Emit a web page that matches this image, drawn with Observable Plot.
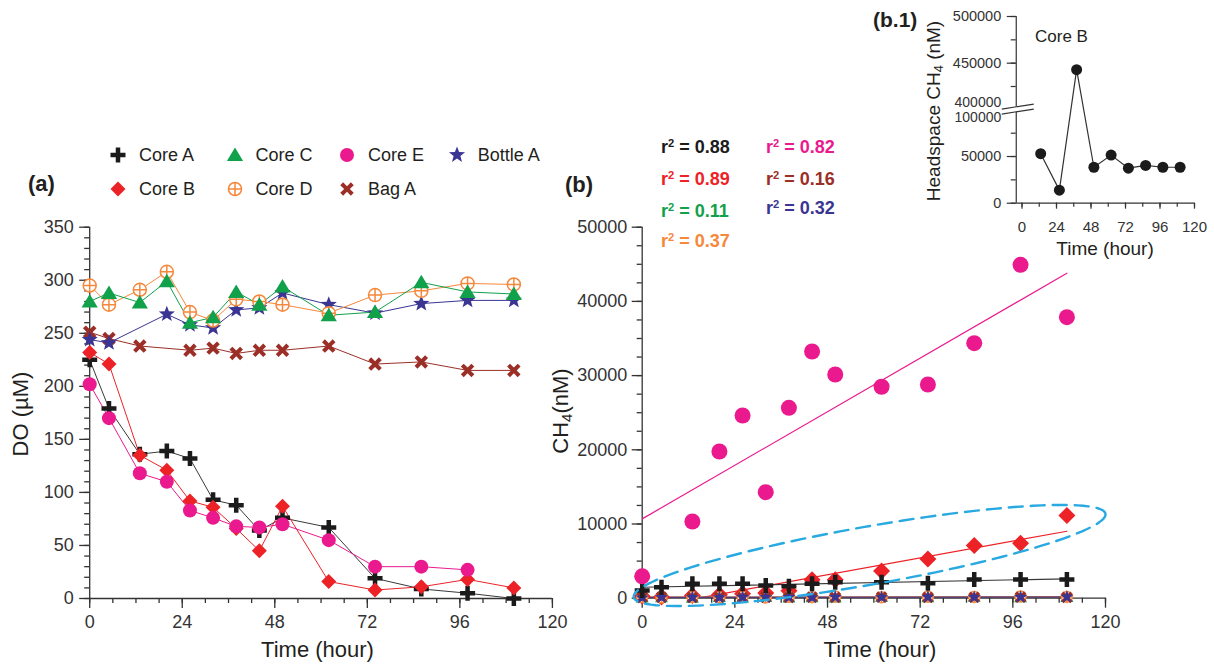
<!DOCTYPE html>
<html>
<head>
<meta charset="utf-8">
<script src="https://cdn.jsdelivr.net/npm/d3@7"></script>
<script src="https://cdn.jsdelivr.net/npm/@observablehq/plot@0.6"></script>
<style>
  html, body { margin: 0; padding: 0; background: #fff; }
  #fig { position: relative; width: 1214px; height: 666px; overflow: hidden;
         font-family: "Liberation Sans", Arial, Helvetica, sans-serif; color: #231f20; }
  #fig > svg { position: absolute; left: 0; top: 0; }
  .t { position: absolute; white-space: nowrap; line-height: 1; }
  .t sup { font-size: 0.62em; vertical-align: 0.5em; line-height: 0; }
  .t sub { font-size: 0.68em; vertical-align: -0.28em; line-height: 0; }
  .sym { position: absolute; width: 24px; height: 24px; overflow: visible; }
</style>
</head>
<body>
<div id="fig"></div>
<script>
// ---------------------------------------------------------------- data
// sampling times (hours)
const hours = [0, 5, 13, 20, 26, 32, 38, 44, 50, 62, 74, 86, 98, 110];

// (a) dissolved oxygen, µM (null = no measurement)
const doCoreA   = [225, 179, 136, 139, 132, 93, 88, 64, 76, 67, 19, 9, 5, 0];
const doCoreB   = [232, 221, 135, 121, 92, 86, 66, 45, 87, 16, 8, 11, 18, 10];
const doCoreC   = [280, 288, 279, 299, 260, 265, 289, 277, 294, 267, 270, 298, 289, 287];
const doCoreD   = [295, 277, 291, 308, 270, 262, 282, 280, 277, 269, 286, 290, 297, 296];
const doCoreE   = [202, 170, 118, 110, 83, 76, 68, 67, 70, 55, 30, 30, 27, null];
const doBagA    = [251, 245, 238, null, 234, 236, 231, 234, 234, 238, 221, 223, 215, 215];
const doBottleA = [244, 241, null, 268, 258, 255, 272, 274, 288, 277, 269, 278, 281, 281];

// (b) dissolved CH4, nM
const ch4CoreA   = [1040, 1480, 1940, 1940, 1940, 1710, 1620, 1940, 2160, 2160, 2000, 2520, 2520, 2520];
const ch4CoreB   = [250, 150, 350, 450, 600, 700, 1000, 2500, 2500, 3650, 5270, 7100, 7400, 11150];
const ch4CoreC   = [60, 90, 40, 120, 80, 150, 70, 110, 60, 140, 90, 160, 100, 130];
const ch4CoreD   = [150, 90, 170, 120, 200, 110, 180, 140, 230, 120, 210, 160, 240, 170];
const ch4CoreE   = [2950, null, 10340, 19770, 24620, 14290, 25660, 33250, 30150, 28500, 28800, 34370, 44930, 37870];
const ch4BagA    = [120, 140, 100, 130, 110, 150, 90, 140, 120, 160, 100, 130, 150, 110];
const ch4BottleA = [80, 120, 100, 90, 130, 110, 140, 100, 150, 120, 160, 110, 140, 170];

// r² of the linear fits in (b)
const fitLabels = [
  {name: "Core A", text: "0.88"}, {name: "Core B", text: "0.89"},
  {name: "Core C", text: "0.11"}, {name: "Core D", text: "0.37"},
  {name: "Core E", text: "0.82"}, {name: "Bag A", text: "0.16"},
  {name: "Bottle A", text: "0.32"}
];

// (b.1) headspace CH4 of Core B, nM
const headspaceHours = [13, 26, 38, 50, 62, 74, 86, 98, 110];
const headspaceCoreB = [53000, 14000, 443000, 38500, 51500, 37500, 40500, 38500, 38500];

// dashed outline around the low-CH4 cores in (b): centre and semi-axes (hour, nM)
const outlineCenter = {hour: 58.9, ch4: 5755};
const outlineMajor  = {hour: 61.1, ch4: 5620};
const outlineMinor  = {hour: 1.3,  ch4: -3850};

// ---------------------------------------------------------------- symbols
const poly = pts => ({
  draw(ctx, size) {
    const r = Math.sqrt(size / Math.PI);
    pts.forEach(([px, py], i) => i ? ctx.lineTo(px * r, py * r) : ctx.moveTo(px * r, py * r));
    ctx.closePath();
  }
});
const armPts = w => [[-1,-w],[-w,-w],[-w,-1],[w,-1],[w,-w],[1,-w],[1,w],[w,w],[w,1],[-w,1],[-w,w],[-1,w]];
const symPlus = poly(armPts(0.3));
const symTimes = poly(armPts(0.27).map(([x, y]) => [(x - y) * Math.SQRT1_2, (x + y) * Math.SQRT1_2]));
const symDiamond = poly([[0,-1],[1,0],[0,1],[-1,0]]);
const symTriangle = poly([[0,-1],[1.08,0.8],[-1.08,0.8]]);
const symStar = poly(d3.range(10).map(i => {
  const a = i * Math.PI / 5 - Math.PI / 2, k = i % 2 ? 0.42 : 1;
  return [k * Math.cos(a), k * Math.sin(a)];
}));
const symCircle = {draw(ctx, size) { const r = Math.sqrt(size / Math.PI); ctx.moveTo(r, 0); ctx.arc(0, 0, r, 0, 2 * Math.PI); }};
const symOplus = {draw(ctx, size) {
  const r = Math.sqrt(size / Math.PI);
  ctx.moveTo(r, 0); ctx.arc(0, 0, r, 0, 2 * Math.PI);
  ctx.moveTo(-r, 0); ctx.lineTo(r, 0); ctx.moveTo(0, -r); ctx.lineTo(0, r);
}};

const styles = {
  "Core A":   {color: "#1b1b1b", line: "#3a3a3a", symbol: symPlus,     fill: "#1b1b1b", rA: 7.5, rB: 7.5},
  "Core B":   {color: "#ec2227", line: "#ec2227", symbol: symDiamond,  fill: "#ec2227", rA: 7.5, rB: 8.5},
  "Core C":   {color: "#12a14b", line: "#12a14b", symbol: symTriangle, fill: "#12a14b", rA: 7.5, rB: 6},
  "Core D":   {color: "#f6883c", line: "#f6883c", symbol: symOplus,    fill: "white", stroke: "#f6883c", rA: 6.5, rB: 5.5},
  "Core E":   {color: "#ea1a8e", line: "#ea1a8e", symbol: symCircle,   fill: "#ea1a8e", rA: 7, rB: 8},
  "Bag A":    {color: "#9b2f27", line: "#9b2f27", symbol: symTimes,    fill: "#9b2f27", rA: 7.5, rB: 6.5},
  "Bottle A": {color: "#3a3592", line: "#3a3592", symbol: symStar,     fill: "#3a3592", rA: 8.5, rB: 7}
};

const tidy = (name, values, key) => hours.map((h, i) => ({name, hour: h, [key]: values[i]})).filter(d => d[key] != null);
const doData = {
  "Core A": tidy("Core A", doCoreA, "do"), "Core B": tidy("Core B", doCoreB, "do"),
  "Core C": tidy("Core C", doCoreC, "do"), "Core D": tidy("Core D", doCoreD, "do"),
  "Core E": tidy("Core E", doCoreE, "do"), "Bag A": tidy("Bag A", doBagA, "do"),
  "Bottle A": tidy("Bottle A", doBottleA, "do")
};
const ch4Data = {
  "Core A": tidy("Core A", ch4CoreA, "ch4"), "Core B": tidy("Core B", ch4CoreB, "ch4"),
  "Core C": tidy("Core C", ch4CoreC, "ch4"), "Core D": tidy("Core D", ch4CoreD, "ch4"),
  "Core E": tidy("Core E", ch4CoreE, "ch4"), "Bag A": tidy("Bag A", ch4BagA, "ch4"),
  "Bottle A": tidy("Bottle A", ch4BottleA, "ch4")
};
const headspace = headspaceHours.map((h, i) => ({hour: h, ch4: headspaceCoreB[i]}));
// broken y axis of (b.1): 400000–500000 is drawn directly above 0–100000
const brokenY = v => v > 250000 ? v - 300000 : v;

// ---------------------------------------------------------------- layout
const W = 1214, H = 666;
const FONT = '"Liberation Sans", Arial, Helvetica, sans-serif';
const INK = "#231f20";
const AX = "#333";
const baseStyle = {background: "transparent", overflow: "visible", fontFamily: FONT, color: AX};

const dots = (data, name, yKey, rKey) => {
  const s = styles[name];
  return Plot.dot(data, {x: "hour", y: yKey, symbol: s.symbol, r: s[rKey], fill: s.fill,
    stroke: s.stroke ?? "none", strokeWidth: s.stroke ? 1.5 : 0});
};

// ---- (a) dissolved oxygen
const orderA = ["Bag A", "Bottle A", "Core D", "Core C", "Core A", "Core B", "Core E"];
const panelA = Plot.plot({
  width: W, height: H,
  marginLeft: 89.2, marginRight: W - 551.9, marginTop: 226.7, marginBottom: H - 598,
  x: {domain: [0, 120], label: null},
  y: {domain: [0, 350], label: null},
  style: baseStyle,
  marks: [
    Plot.axisX(d3.range(0, 121, 6), {tickSize: 5, tickFormat: () => "", strokeWidth: 1.3, label: null}),
    Plot.axisX(d3.range(0, 121, 24), {tickSize: 10, tickPadding: 7, fontSize: 18, strokeWidth: 1.3, label: null}),
    Plot.axisY(d3.range(0, 351, 10), {tickSize: 5, tickFormat: () => "", strokeWidth: 1.3, label: null}),
    Plot.axisY(d3.range(0, 351, 50), {tickSize: 10, tickPadding: 6, fontSize: 18, strokeWidth: 1.3, label: null}),
    Plot.ruleY([0], {stroke: AX, strokeWidth: 1.3}),
    Plot.ruleX([0], {stroke: AX, strokeWidth: 1.3}),
    ...orderA.map(n => Plot.line(doData[n], {x: "hour", y: "do", stroke: styles[n].line, strokeWidth: 1})),
    ...orderA.map(n => dots(doData[n], n, "do", "rA"))
  ]
});

// ---- (b) dissolved CH4 with linear fits
const orderB = ["Core B", "Core C", "Core D", "Bag A", "Bottle A", "Core A", "Core E"];
const outline = d3.range(0, 361, 3).map(deg => {
  const p = deg * Math.PI / 180;
  return {
    hour: outlineCenter.hour + outlineMajor.hour * Math.cos(p) + outlineMinor.hour * Math.sin(p),
    ch4: outlineCenter.ch4 + outlineMajor.ch4 * Math.cos(p) + outlineMinor.ch4 * Math.sin(p)
  };
});
const panelB = Plot.plot({
  width: W, height: H,
  marginLeft: 641.7, marginRight: W - 1105, marginTop: 226.7, marginBottom: H - 597.7,
  x: {domain: [0, 120], label: null},
  y: {domain: [0, 50000], label: null},
  style: baseStyle,
  marks: [
    Plot.axisX(d3.range(0, 121, 6), {tickSize: 5, tickFormat: () => "", strokeWidth: 1.3, label: null}),
    Plot.axisX(d3.range(0, 121, 24), {tickSize: 10, tickPadding: 7, fontSize: 18, strokeWidth: 1.3, label: null}),
    Plot.axisY(d3.range(0, 50001, 2500), {tickSize: 5, tickFormat: () => "", strokeWidth: 1.3, label: null}),
    Plot.axisY(d3.range(0, 50001, 10000), {tickSize: 10, tickPadding: 5, fontSize: 18, tickFormat: d => String(d), strokeWidth: 1.3, label: null}),
    Plot.ruleY([0], {stroke: AX, strokeWidth: 1.3}),
    Plot.ruleX([0], {stroke: AX, strokeWidth: 1.3}),
    ...orderB.map(n => Plot.linearRegressionY(ch4Data[n], {x: "hour", y: "ch4", stroke: styles[n].line, strokeWidth: 1.2, ci: 0, clip: true})),
    ...orderB.map(n => dots(ch4Data[n], n, "ch4", "rB")),
    Plot.line(outline, {x: "hour", y: "ch4", stroke: "#29a9e1", strokeWidth: 2.4, strokeDasharray: "14,8"})
  ]
});

// ---- (b.1) headspace CH4 of Core B
const insetLabels = new Map([[0, "0"], [50000, "50000"], [150000, "450000"], [200000, "500000"]]);
const axisBreak = (index, {x, y}) => {
  const cx = x(-4), cy = y(brokenY(100000));
  const g = d3.create("svg:g").attr("fill", "none");
  g.append("path").attr("fill", "white").attr("stroke", "none")
    .attr("d", `M${cx - 14},${cy + 4.5}L${cx + 18},${cy - 0.5}L${cx + 18},${cy - 5.5}L${cx - 14},${cy - 0.5}Z`);
  for (const off of [-2.8, 2.2]) {
    g.append("path").attr("stroke", AX).attr("stroke-width", 1.2)
      .attr("d", `M${cx - 14},${cy + off + 2.5}L${cx + 18},${cy + off - 2.5}`);
  }
  return g.node();
};
const inset = Plot.plot({
  width: W, height: H,
  marginLeft: 1015.75, marginRight: W - 1194, marginTop: 16, marginBottom: H - 202.7,
  x: {domain: [-4, 120], label: null},
  y: {domain: [0, 200000], label: null},
  style: baseStyle,
  marks: [
    Plot.axisX(d3.range(0, 121, 12), {tickSize: 4, tickFormat: () => "", strokeWidth: 1.2, label: null}),
    Plot.axisX(d3.range(0, 121, 24), {tickSize: 6, tickPadding: 12, fontSize: 15, strokeWidth: 1.2, label: null}),
    Plot.axisY(d3.range(0, 200001, 25000), {tickSize: 5, tickFormat: () => "", strokeWidth: 1.2, label: null}),
    Plot.axisY(d3.range(0, 200001, 50000), {tickSize: 9, tickPadding: 6, fontSize: 14.5, strokeWidth: 1.2,
      tickFormat: d => insetLabels.get(d) ?? "", label: null}),
    Plot.text([100000], {y: d => d, text: () => "400000", frameAnchor: "left", dx: -15, dy: -7, textAnchor: "end", fontSize: 14, fill: AX}),
    Plot.text([100000], {y: d => d, text: () => "100000", frameAnchor: "left", dx: -15, dy: 7.5, textAnchor: "end", fontSize: 14, fill: AX}),
    Plot.ruleY([0], {stroke: AX, strokeWidth: 1.2}),
    Plot.ruleX([-4], {stroke: AX, strokeWidth: 1.2}),
    axisBreak,
    Plot.line(headspace, {x: "hour", y: d => brokenY(d.ch4), stroke: "#333", strokeWidth: 1.2}),
    Plot.dot(headspace, {x: "hour", y: d => brokenY(d.ch4), r: 5.5, fill: "#1b1b1b"})
  ]
});

const fig = document.getElementById("fig");
fig.append(panelA, panelB, inset);

// ---------------------------------------------------------------- text & legend
function label(html, x, y, {size = 18, weight = 400, color = INK, align = "start", rotate = false} = {}) {
  const el = document.createElement("div");
  el.className = "t";
  el.innerHTML = html;
  Object.assign(el.style, {left: x + "px", top: y + "px", fontSize: size + "px", fontWeight: weight, color});
  const tx = align === "middle" ? "-50%" : align === "end" ? "-100%" : "0";
  el.style.transform = `translate(${tx}, -50%)` + (rotate ? " rotate(-90deg)" : "");
  fig.append(el);
}

// legend of (a): four columns, two rows
const legendCols = [118, 234.5, 347, 456.7];
const legendRows = [155, 189];
const legendTextDx = 21;
const legendItems = [
  ["Core A", 0, 0], ["Core B", 0, 1], ["Core C", 1, 0], ["Core D", 1, 1],
  ["Core E", 2, 0], ["Bag A", 2, 1], ["Bottle A", 3, 0]
];
for (const [name, c, r] of legendItems) {
  const s = styles[name];
  const cx = legendCols[c], cy = legendRows[r];
  const svg = d3.create("svg").attr("class", "sym").attr("width", 24).attr("height", 24)
    .style("left", (cx - 12) + "px").style("top", (cy - 12) + "px");
  svg.append("path")
    .attr("transform", "translate(12,12)")
    .attr("d", d3.symbol(s.symbol, Math.PI * s.rA * s.rA)())
    .attr("fill", s.fill).attr("stroke", s.stroke ?? "none").attr("stroke-width", s.stroke ? 1.5 : 0);
  fig.append(svg.node());
  label(name, cx + legendTextDx, cy, {size: 18});
}

// panel tags
label("(a)", 28, 184, {size: 22, weight: 700});
label("(b)", 565, 185, {size: 22, weight: 700});
label("(b.1)", 873, 19, {size: 21, weight: 700});

// axis titles
label("Time (hour)", 317.5, 650, {size: 22, align: "middle"});
label("DO (µM)", 21, 414, {size: 22, align: "middle", rotate: true});
label("Time (hour)", 880, 650, {size: 22, align: "middle"});
label("CH<sub>4</sub>(nM)", 561, 411, {size: 22, align: "middle", rotate: true});
label("Time (hour)", 1105, 248, {size: 19, align: "middle"});
label("Headspace CH<sub>4</sub> (nM)", 933, 111, {size: 19, align: "middle", rotate: true});
label("Core B", 1035, 36, {size: 17});

// r² of the fits in (b)
const fitCols = [661, 766];
const fitRows = [[147, 179, 211, 241], [147, 179, 208]];
fitLabels.forEach((f, i) => {
  const col = i < 4 ? 0 : 1, row = i < 4 ? i : i - 4;
  label(`r<sup>2</sup> = ${f.text}`, fitCols[col], fitRows[col][row], {size: 18, weight: 700, color: styles[f.name].color});
});
</script>
</body>
</html>
